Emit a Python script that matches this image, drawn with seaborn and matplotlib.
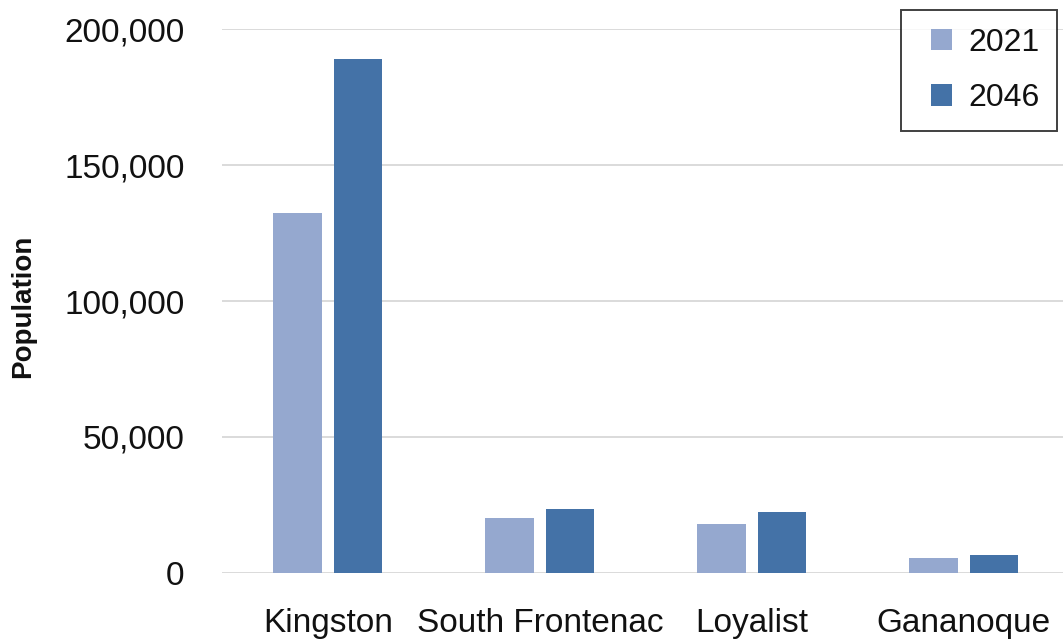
import matplotlib
matplotlib.use("Agg")
import matplotlib.pyplot as plt
import seaborn as sns
import pandas as pd
from matplotlib.patches import Rectangle
from matplotlib.legend_handler import HandlerPatch
from matplotlib.ticker import FuncFormatter

# Population by municipality, 2021 and projected 2046
municipalities = ["Kingston", "South Frontenac", "Loyalist", "Gananoque"]
years = ["2021", "2046"]
pop_2021 = [132500, 20100, 17900, 5400]
pop_2046 = [188900, 23600, 22400, 6600]
colors = ["#95A8CF", "#4472A7"]

df = pd.DataFrame({
    "Municipality": municipalities * 2,
    "Year": [years[0]] * len(municipalities) + [years[1]] * len(municipalities),
    "Population": pop_2021 + pop_2046,
})

sns.set_theme(style="white")
plt.rcParams["font.family"] = ["Liberation Sans", "DejaVu Sans"]
plt.rcParams["text.color"] = "#111111"

fig = plt.figure(figsize=(10.63, 6.39), dpi=100)
ax = fig.add_axes([0.2088, 0.1033, 0.7977, 0.8513])

sns.barplot(data=df, x="Municipality", y="Population", hue="Year",
            palette=colors, width=0.575, gap=0.21, ax=ax,
            edgecolor="none", linewidth=0, saturation=1)

ax.set_xlim(-0.5, 3.5)
ax.set_ylim(0, 200000)
ax.set_yticks([0, 50000, 100000, 150000, 200000])
ax.yaxis.set_major_formatter(FuncFormatter(lambda v, p: f"{int(v):,}"))
ax.grid(axis="y", color="#DADADA", linewidth=1.4)
ax.set_axisbelow(True)
for s in ax.spines.values():
    s.set_visible(False)

ax.tick_params(axis="y", length=0, pad=27, labelsize=24, labelcolor="#111111")
ax.tick_params(axis="x", length=0, pad=25, labelsize=24, labelcolor="#111111")
ax.set_xlabel("")
ax.set_ylabel("Population", fontsize=20, fontweight="bold", color="#111111")
ax.yaxis.set_label_coords(-0.219, 0.49)


def square_handle(legend, orig_handle, xdescent, ydescent, width, height, fontsize):
    # small square key aligned to the right of the handle box
    side = height
    return Rectangle((-xdescent + width - side, -ydescent), side, side)


handles, labels = ax.get_legend_handles_labels()
leg = ax.legend(handles, labels, loc="upper right", bbox_to_anchor=(0.985, 1.035),
                frameon=True, fontsize=23, handlelength=1.05, handleheight=0.65,
                handletextpad=0.5, labelspacing=0.8, borderpad=0.55,
                borderaxespad=0, fancybox=False, title=None,
                handler_map={h: HandlerPatch(patch_func=square_handle) for h in handles})
leg.get_frame().set_edgecolor("#111111")
leg.get_frame().set_linewidth(1.4)
for t in leg.get_texts():
    t.set_color("#111111")

fig.savefig("out.png", dpi=100)
